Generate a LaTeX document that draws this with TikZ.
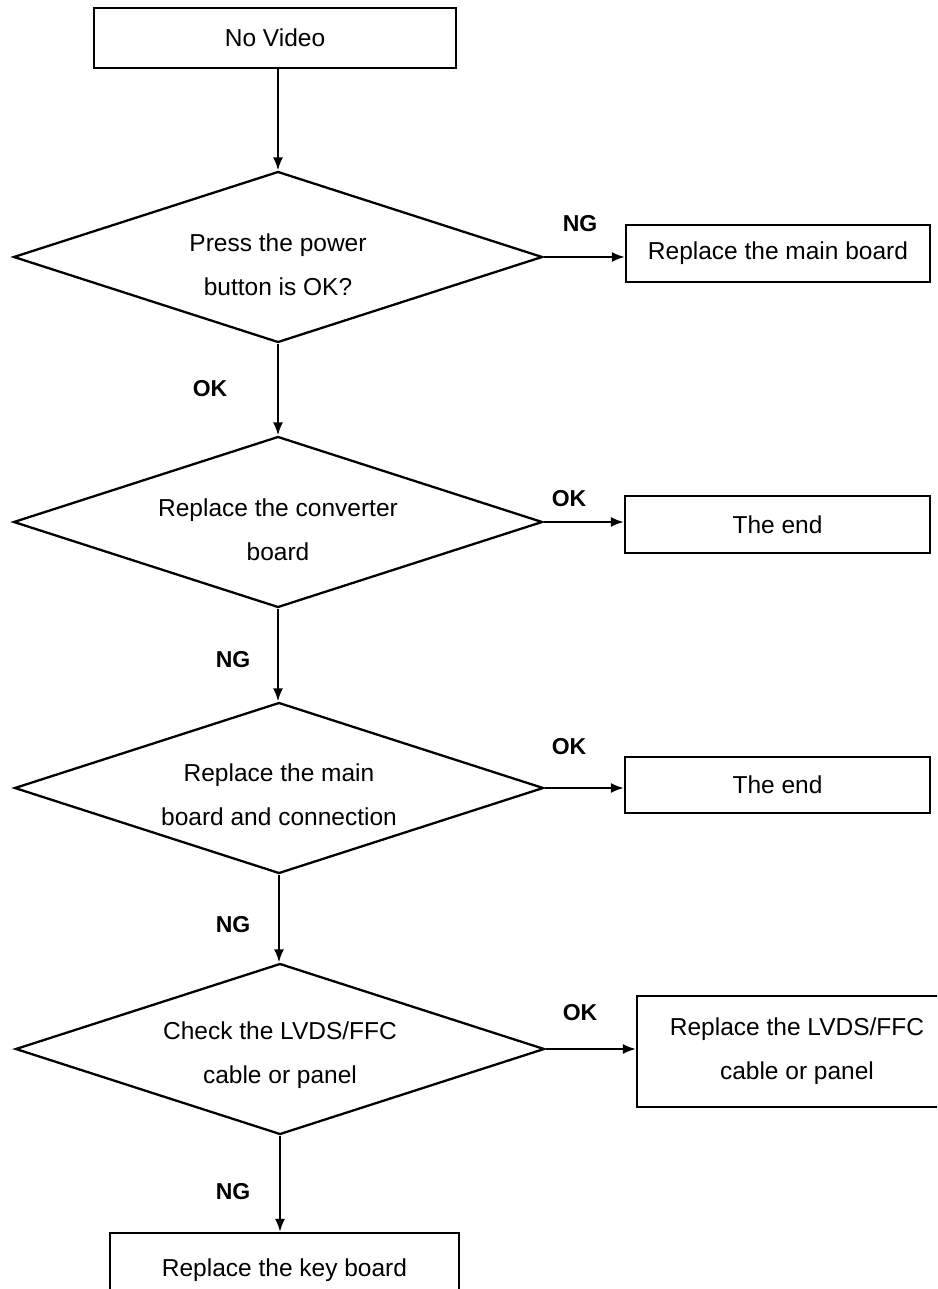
\documentclass[tikz,border=0pt]{standalone}
\usepackage{fontspec}
\setmainfont{Liberation Sans}
\usetikzlibrary{shapes.geometric,arrows.meta,calc}
\tikzset{
  box/.style={draw=black, line width=2.3pt, rectangle, inner sep=0pt, font=\fontsize{24.5}{44}\selectfont, align=center},
  decision/.style={draw=black, line width=2.3pt, diamond, inner sep=0pt, minimum width=529pt, minimum height=171pt, aspect=3.1},
  dtext/.style={font=\fontsize{24.5}{44}\selectfont, align=center},
  flow/.style={line width=2pt, -{Latex[length=13pt,width=10pt]}},
  tag/.style={font=\bfseries\fontsize{23}{26}\selectfont}
}
\begin{document}
\begin{tikzpicture}[x=1pt,y=-1pt]
\useasboundingbox (0,0) rectangle (937,1289);
\clip (0,0) rectangle (937,1289);
% boxes
\node[box, minimum width=362pt, minimum height=60pt] (start) at (275,38) {\raisebox{-3pt}{No Video}};
\node[box, minimum width=304pt, minimum height=57pt] (mb) at (778,253.5) {Replace the main board};
\node[box, minimum width=305pt, minimum height=57pt] (end1) at (777.5,524.5) {The end};
\node[box, minimum width=305pt, minimum height=56pt] (end2) at (777.5,785) {The end};
\node[box, minimum width=320pt, minimum height=111pt] (lvds) at (797,1051.5) {Replace the LVDS/FFC\\cable or panel};
\node[box, minimum width=349pt, minimum height=80pt, text depth=0pt] (kb) at (284.5,1273) {\raisebox{10pt}{Replace the key board}};
% decisions
\node[decision, label={[dtext, yshift=-8pt]center:Press the power\\button is OK?}] (d1) at (278,257) {};
\node[decision, label={[dtext, yshift=-8pt]center:Replace the converter\\board}] (d2) at (278,522) {};
\node[decision, label={[dtext, yshift=-7pt]center:Replace the main\\board and connection}] (d3) at (279,788) {};
\node[decision, label={[dtext, yshift=-6pt]center:Check the LVDS/FFC\\cable or panel}] (d4) at (280,1049) {};
% connectors
\draw[flow] (start.south -| d1.north) -- (d1.north);
\draw[flow] (d1.south) -- (d2.north);
\draw[flow] (d2.south) -- (d2.south |- d3.north);
\draw[flow] (d3.south) -- (d3.south |- d4.north);
\draw[flow] (d4.south) -- (d4.south |- kb.north);
\draw[flow] (d1.east) -- (d1.east -| mb.west);
\draw[flow] (d2.east) -- (d2.east -| end1.west);
\draw[flow] (d3.east) -- (d3.east -| end2.west);
\draw[flow] (d4.east) -- (d4.east -| lvds.west);
% labels
\node[tag] (l1) at (580,224) {NG};
\node[tag] (l2) at (210,389) {OK};
\node[tag] (l3) at (569,499) {OK};
\node[tag] (l4) at (233,660) {NG};
\node[tag] (l5) at (569,747) {OK};
\node[tag] (l6) at (233,925) {NG};
\node[tag] (l7) at (580,1013) {OK};
\node[tag] (l8) at (233,1192) {NG};
\end{tikzpicture}
\end{document}
